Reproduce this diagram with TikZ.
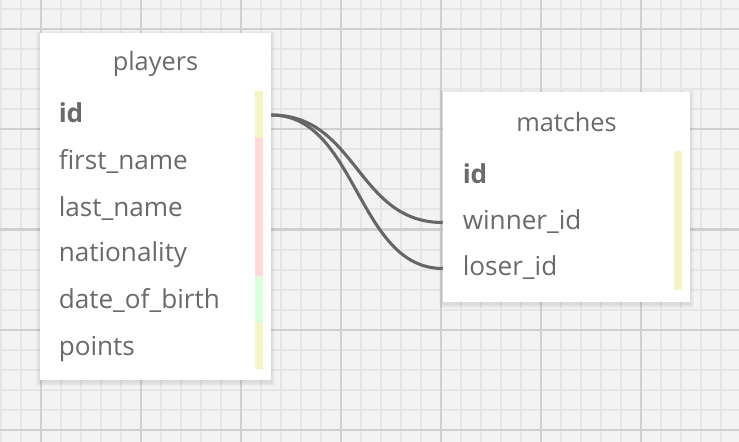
\documentclass[tikz,border=0pt]{standalone}
\usepackage{fontspec}
\setmainfont{Open Sans}
\definecolor{bg}{HTML}{F3F3F3}
\definecolor{minorc}{HTML}{E6E6E6}
\definecolor{majorc}{HTML}{D0D0D0}
\definecolor{txt}{HTML}{6A6A6A}
\definecolor{barY}{HTML}{F4F4C4}
\definecolor{barP}{HTML}{FFD9D9}
\definecolor{barG}{HTML}{DAFFDA}
\definecolor{linkc}{HTML}{666666}
\begin{document}
\begin{tikzpicture}[x=0.75pt,y=-0.75pt,
  minorline/.style={minorc,line width=1.5pt},
  majorline/.style={majorc,line width=1.5pt},
  tablebox/.style={fill=white,draw=none,inner sep=0pt},
  title/.style={text=txt,font=\fontsize{19}{23}\selectfont,anchor=base,inner sep=0pt},
  field/.style={text=txt,font=\fontsize{19.6}{23}\selectfont,anchor=base west,inner sep=0pt},
  keyfield/.style={field,font=\fontsize{19.6}{23}\selectfont\bfseries},
  linkline/.style={linkc,line width=2.3pt}]
\useasboundingbox (0,0) rectangle (739,442);
\fill[bg] (0,0) rectangle (739,442);
% grid
\foreach \x in {1,21,...,739} \draw[minorline] (\x,0) -- (\x,442);
\foreach \y in {9.5,29.5,...,442} \draw[minorline] (0,\y) -- (739,\y);
\foreach \x in {41,141,...,739} \draw[majorline] (\x,0) -- (\x,442);
\foreach \y in {29.5,129.5,...,442} \draw[majorline] (0,\y) -- (739,\y);
% shadows
\foreach \i in {1,...,4} {
  \fill[black,opacity=0.025] (40-\i,33-\i+2) rectangle (271+\i,380+\i+2);
  \fill[black,opacity=0.025] (443-\i,92.5-\i+2) rectangle (690+\i,301.5+\i+2);
}
% boxes
\node[tablebox,minimum width=173.25pt,minimum height=260.25pt] (players) at (155.5,206.5) {};
\node[tablebox,minimum width=185.25pt,minimum height=156.75pt] (matches) at (566.5,197) {};
% colour bars
\fill[barY] (255,91) rectangle (263,138);
\fill[barP] (255,138) rectangle (263,276);
\fill[barG] (255,276) rectangle (263,323);
\fill[barY] (255,323) rectangle (263,368.5);
\fill[barY] (674,151) rectangle (682,290);
% players text
\node[title] (ptitle) at (155.5,71) {players};
\node[keyfield] (pid) at (58.5,123) {id};
\node[field] (pfirst) at (58.5,169.5) {first\_name};
\node[field] (plast) at (58.5,216) {last\_name};
\node[field] (pnat) at (58.5,262) {nationality};
\node[field] (pdob) at (58.5,308.5) {date\_of\_birth};
\node[field] (ppts) at (58.5,355) {points};
% matches text
\node[title] (mtitle) at (566.5,131.5) {matches};
\node[keyfield] (mid) at (462.5,183.3) {id};
\node[field] (mwin) at (462.5,229.3) {winner\_id};
\node[field] (mlose) at (462.5,275) {loser\_id};
% connectors
\coordinate (src) at (players.east |- 0,115);
\coordinate (dwin) at (matches.west |- 0,222.5);
\coordinate (dlose) at (matches.west |- 0,268.5);
\draw[linkline] (src) .. controls +(86,0) and +(-86,0) .. (dwin);
\draw[linkline] (src) .. controls +(86,0) and +(-86,0) .. (dlose);
\end{tikzpicture}
\end{document}
